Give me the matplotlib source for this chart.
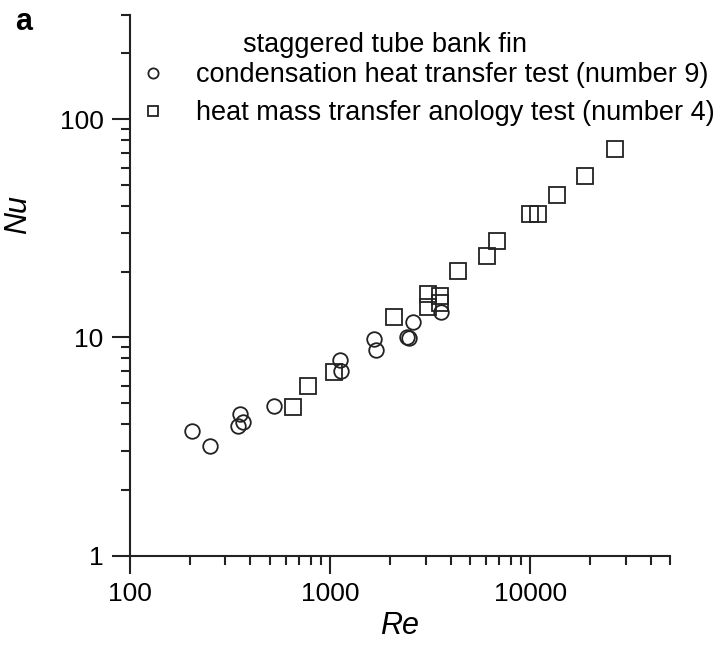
import matplotlib
matplotlib.use('Agg')
import matplotlib.pyplot as plt
from matplotlib.ticker import LogLocator, NullFormatter, FixedLocator, FixedFormatter

plt.rcParams['font.family'] = ['Liberation Sans', 'DejaVu Sans']

# condensation heat transfer test (number 9)
re_cond = [205, 252, 356, 345, 367, 522, 1120, 1140, 1660, 1690, 2420, 2470, 2610, 3580]
nu_cond = [3.73, 3.18, 4.46, 3.93, 4.11, 4.82, 7.88, 7.04, 9.81, 8.77, 10.0, 9.9, 11.8, 13.1]

# heat mass transfer anology test (number 4)
re_mass = [655, 774, 1045, 2090, 3090, 3540, 3090, 3540, 4365, 6090, 6840,
           10000, 10970, 13600, 18900, 26500]
nu_mass = [4.78, 5.99, 6.97, 12.4, 15.8, 15.5, 13.8, 14.4, 20.2, 23.5, 27.5,
           36.9, 36.9, 45.1, 54.7, 73.0]

x_ticks = [100, 1000, 10000]
x_labels = ['100', '1000', '10000']
y_ticks = [1, 10, 100]
y_labels = ['1', '10', '100']

fig = plt.figure(figsize=(7.23, 6.54), dpi=100)
ax = fig.add_axes([130/723, 1-555.5/654, 540/723, 540.5/654])

mk = dict(linestyle='none', markerfacecolor='none', markeredgecolor='#222222',
          markeredgewidth=1.3)
ax.plot(re_cond, nu_cond, marker='o', markersize=10.5,
        label='condensation heat transfer test (number 9)', **mk)
ax.plot(re_mass, nu_mass, marker='s', markersize=11,
        label='heat mass transfer anology test (number 4)', **mk)

ax.set_xscale('log')
ax.set_yscale('log')
ax.set_xlim(100, 50000)
ax.set_ylim(1, 300)

ax.xaxis.set_major_locator(FixedLocator(x_ticks))
ax.xaxis.set_major_formatter(FixedFormatter(x_labels))
ax.yaxis.set_major_locator(FixedLocator(y_ticks))
ax.yaxis.set_major_formatter(FixedFormatter(y_labels))
ax.xaxis.set_minor_locator(LogLocator(base=10, subs=range(2, 10), numticks=20))
ax.yaxis.set_minor_locator(LogLocator(base=10, subs=range(2, 10), numticks=20))
ax.xaxis.set_minor_formatter(NullFormatter())
ax.yaxis.set_minor_formatter(NullFormatter())

for s in ['top', 'right']:
    ax.spines[s].set_visible(False)
for s in ['left', 'bottom']:
    ax.spines[s].set_linewidth(1.5)
    ax.spines[s].set_color('#222222')

ax.tick_params(which='major', direction='out', length=13, width=1.5,
               color='#222222', labelsize=19, pad=6)
ax.tick_params(which='minor', direction='out', length=6.5, width=1.5,
               color='#222222')

ax.set_xlabel('Re', fontsize=22, style='italic', labelpad=4)
ax.set_ylabel('Nu', fontsize=22, style='italic')
ax.yaxis.set_label_coords(-0.18, 0.63)

fig.text(15/723, 1-22/654, 'a', fontsize=22, fontweight='bold', va='center')
fig.text(385/723, 1-45/654, 'staggered tube bank fin', fontsize=19.5,
         ha='center', va='center')

fig.legend(loc='upper left', bbox_to_anchor=(139/723, 1-62/654), frameon=False,
           fontsize=19.5, borderpad=0, handlelength=1.0, handletextpad=1.1,
           labelspacing=0.45, markerscale=0.7, borderaxespad=0)

fig.savefig('out.png', dpi=100)
